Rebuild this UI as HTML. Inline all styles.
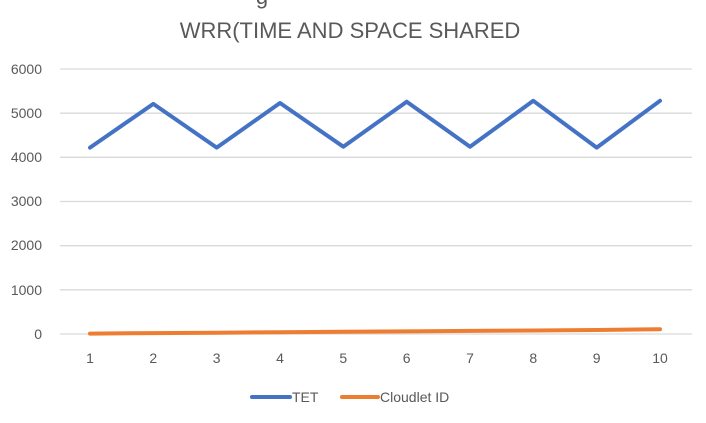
<!DOCTYPE html><html><head><style>body{margin:0;background:#fff}</style></head><body>
<svg width="706" height="418" xmlns="http://www.w3.org/2000/svg" font-family="Liberation Sans, sans-serif">
<rect width="706" height="418" fill="#fff"/>
<text x="262" y="4" font-size="22" fill="#595959" text-anchor="middle">g</text>
<text x="350" y="38" font-size="22" fill="#595959" text-anchor="middle">WRR(TIME AND SPACE SHARED</text>
<g stroke="#d9d9d9" stroke-width="1.3">
<line x1="60" x2="692" y1="69" y2="69"/><line x1="60" x2="692" y1="113.2" y2="113.2"/>
<line x1="60" x2="692" y1="157.3" y2="157.3"/><line x1="60" x2="692" y1="201.5" y2="201.5"/>
<line x1="60" x2="692" y1="245.7" y2="245.7"/><line x1="60" x2="692" y1="289.8" y2="289.8"/>
<line x1="60" x2="692" y1="334" y2="334"/></g>
<g font-size="14" fill="#595959" text-anchor="end">
<text x="42" y="74">6000</text><text x="42" y="118">5000</text><text x="42" y="162">4000</text>
<text x="42" y="206">3000</text><text x="42" y="250">2000</text><text x="42" y="295">1000</text><text x="42" y="339">0</text></g>
<g font-size="14" fill="#595959" text-anchor="middle">
<text x="90" y="363">1</text><text x="153.3" y="363">2</text><text x="216.7" y="363">3</text><text x="280" y="363">4</text><text x="343.3" y="363">5</text><text x="406.7" y="363">6</text><text x="470" y="363">7</text><text x="533.3" y="363">8</text><text x="596.7" y="363">9</text><text x="660" y="363">10</text></g>
<polyline fill="none" stroke="#4472c4" stroke-width="4" stroke-linejoin="round" stroke-linecap="round" points="90,147.6 153.3,103.9 216.7,147.6 280,103 343.3,146.7 406.7,101.7 470,146.7 533.3,100.8 596.7,147.6 660,100.8"/>
<polyline fill="none" stroke="#ed7d31" stroke-width="4" stroke-linejoin="round" stroke-linecap="round" points="90,333.6 153.3,333.1 216.7,332.7 280,332.2 343.3,331.8 406.7,331.4 470,330.9 533.3,330.5 596.7,330 660,329.2"/>
<line x1="252" x2="290" y1="397" y2="397" stroke="#4472c4" stroke-width="4" stroke-linecap="round"/>
<text x="292" y="402" font-size="14" fill="#595959">TET</text>
<line x1="342" x2="378" y1="397" y2="397" stroke="#ed7d31" stroke-width="4" stroke-linecap="round"/>
<text x="380" y="402" font-size="14" fill="#595959">Cloudlet ID</text>
</svg></body></html>
